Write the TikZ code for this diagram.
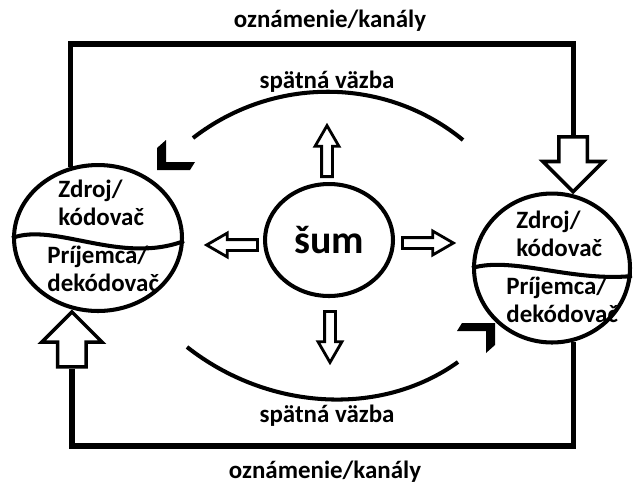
\documentclass[tikz,border=0pt]{standalone}
\usepackage{fontspec}
\setmainfont{Carlito}
\usetikzlibrary{shapes.geometric,shapes.arrows,calc}

\tikzset{
  ring/.style={draw, ellipse, line width=2.3pt, inner sep=0pt},
  frame/.style={line width=3pt},
  wave/.style={line width=2.3pt},
  feedback/.style={line width=2.3pt},
  bigarrow/.style={draw, single arrow, line width=2pt, inner xsep=0.25cm, inner ysep=0pt, minimum height=1.1cm, minimum width=1.14cm, single arrow head extend=0.32cm, single arrow tip angle=90},
  smallarrow/.style={draw, single arrow, line width=1.6pt, inner xsep=0pt, inner ysep=0.08cm, minimum height=1.02cm, minimum width=0.42cm, single arrow head extend=0.13cm, single arrow tip angle=60},
  upright/.style={inner xsep=0.08cm, inner ysep=0pt},
  lbl/.style={font=\bfseries\fontsize{14.2}{16}\selectfont, inner sep=0pt, align=left},
}

\begin{document}
\begin{tikzpicture}[x=0.02cm, y=-0.02cm]
\useasboundingbox (0,0) rectangle (635,488);

\coordinate (ttop) at (0,44);
\coordinate (tbot) at (0,446);

\node[ring, minimum width=3.36cm, minimum height=2.92cm] (src) at (98,238) {};
\node[ring, minimum width=3.12cm, minimum height=2.98cm] (dst) at (552,268) {};
\node[ring, minimum width=2.56cm, minimum height=2.24cm, font=\bfseries\fontsize{22.7}{26}\selectfont] (noise) at (329,240) {šum};

\node[lbl, anchor=north west] (srcenc) at (58,180) {Zdroj/\\kódovač};
\node[lbl, anchor=north west] (srcdec) at (47,246) {Príjemca/\\dekódovač};
\node[lbl, anchor=north west] (dstenc) at (516,211) {Zdroj/\\kódovač};
\node[lbl, anchor=north west] (dstdec) at (506,277) {Príjemca/\\dekódovač};

\draw[wave] (src.west) .. controls +(43,-16) and +(-64,24) .. ($(src.east)+(0,3)$);
\draw[wave] (dst.west) .. controls +(40,-12) and +(-60,6) .. ($(dst.east)+(0,8)$);

\node[bigarrow, shape border rotate=270, anchor=tip] (inarrow) at (dst.74) {};
\node[bigarrow, shape border rotate=90, anchor=tip] (outarrow) at (src.250) {};

\draw[frame] (src.111) -- (src.111 |- ttop) -- (inarrow.tail |- ttop) -- (inarrow.tail);
\draw[frame] (outarrow.tail) -- (outarrow.tail |- tbot) -- (dst.286 |- tbot) -- (dst.286);

\node[lbl, anchor=base] (toplbl) at (330,27) {oznámenie/kanály};
\node[lbl, anchor=base] (botlbl) at (325,478) {oznámenie/kanály};

\node[smallarrow, shape border rotate=180, anchor=tail] (nleft) at ($(noise.west)+(-4,5)$) {};
\node[smallarrow, shape border rotate=0, anchor=tail] (nright) at ($(noise.east)+(6,3)$) {};
\node[smallarrow, upright, shape border rotate=90, anchor=tail] (nup) at ($(noise.north)+(-2,-4)$) {};
\node[smallarrow, upright, shape border rotate=270, anchor=tail] (ndown) at ($(noise.south)+(1,12)$) {};

\coordinate (fbta) at (463,140);
\coordinate (fbtb) at (193,138);
\coordinate (fbba) at (187,347);
\coordinate (fbbb) at (458,362);
\coordinate (fbl) at (157,170);
\coordinate (fbr) at (495,323);

\draw[feedback] (fbta) .. controls (385,76) and (273,76) .. (fbtb);
\draw[feedback] (fbba) .. controls (267,410) and (380,418) .. (fbbb);
\fill (fbl) -- ++(0,-22) -- ++(9,-8) -- ++(0,22) -- ++(29,0) -- ++(-5,8) -- cycle;
\fill (fbr) -- ++(0,22) -- ++(-9,8) -- ++(0,-22) -- ++(-29,0) -- ++(5,-8) -- cycle;

\node[lbl, anchor=base] (fbtop) at (327,88) {spätná väzba};
\node[lbl, anchor=base] (fbbot) at (327,422) {spätná väzba};
\end{tikzpicture}
\end{document}
